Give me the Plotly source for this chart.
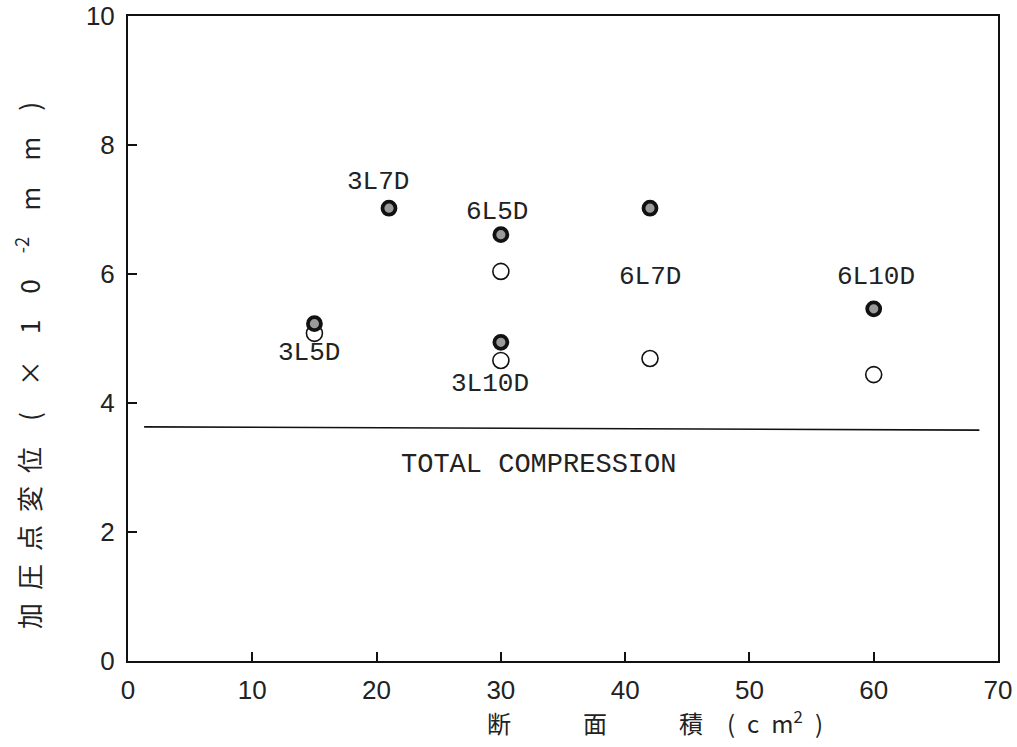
import plotly.graph_objects as go

# Data
labels = ["3L5D", "3L7D", "6L5D", "3L10D", "6L7D", "6L10D"]
area_filled = [15, 21, 30, 30, 42, 60]
disp_filled = [5.23, 7.02, 6.61, 4.94, 7.02, 5.46]
area_open = [15, 30, 30, 42, 60]
disp_open = [5.08, 6.04, 4.66, 4.69, 4.44]
total_x = [1.3, 68.5]
total_y = [3.63, 3.58]
# label anchor positions (data coords)
label_x = [14.6, 20.1, 29.7, 29.1, 42.0, 60.2]
label_y = [4.78, 7.43, 6.96, 4.29, 5.96, 5.96]

fig = go.Figure()

fig.add_trace(go.Scatter(x=total_x, y=total_y, mode="lines",
                         line=dict(color="#111", width=1.6), showlegend=False,
                         hoverinfo="skip"))
fig.add_trace(go.Scatter(x=area_open, y=disp_open, mode="markers",
                         marker=dict(symbol="circle", size=16, color="white",
                                     line=dict(color="#111", width=1.6)),
                         showlegend=False))
fig.add_trace(go.Scatter(x=area_filled, y=disp_filled, mode="markers",
                         marker=dict(symbol="circle", size=13, color="#9a9a9a",
                                     line=dict(color="#111", width=3.8)),
                         showlegend=False))

label_font = dict(family="Liberation Mono, Courier New, monospace", size=26, color="#222")
for t, x, y in zip(labels, label_x, label_y):
    fig.add_annotation(x=x, y=y, text=t, showarrow=False, font=label_font,
                       xanchor="center", yanchor="middle")

fig.add_annotation(x=33.0, y=3.04, text="TOTAL COMPRESSION", showarrow=False,
                   font=dict(family="Liberation Mono, Courier New, monospace", size=27, color="#222"),
                   xanchor="center", yanchor="middle")

# axis titles
fig.add_annotation(xref="paper", yref="paper", x=-0.115, y=0.459,
                   text="加\u2002圧\u2002点\u2002変\u2002位\u3000(\u3000×\u30001\u30000\u3000<sup>-2</sup>\u3000m\u3000m\u3000)",
                   textangle=-90, showarrow=False,
                   font=dict(family="Noto Sans CJK JP", size=26, color="#222"),
                   xanchor="center", yanchor="middle")
fig.add_annotation(xref="paper", yref="paper", x=0.41, y=-0.094,
                   text="断\u3000\u3000\u3000面\u3000\u3000\u3000積\u3000(\u2002c\u2002m<sup>2</sup>\u2002)",
                   showarrow=False,
                   font=dict(family="Noto Sans CJK JP", size=24, color="#222"),
                   xanchor="left", yanchor="middle")

tick_font = dict(family="Liberation Sans, DejaVu Sans, sans-serif", size=26, color="#222")
fig.update_xaxes(range=[0, 70], tickvals=[0, 10, 20, 30, 40, 50, 60, 70],
                 ticks="inside", ticklen=9, tickwidth=1.5, tickcolor="#111",
                 showline=True, linecolor="#111", linewidth=2, mirror=True,
                 showgrid=False, zeroline=False, tickfont=tick_font,
                 ticklabelstandoff=5, ticklabeloverflow="allow", automargin=False)
fig.update_yaxes(range=[0, 10], tickvals=[0, 2, 4, 6, 8, 10],
                 ticks="inside", ticklen=9, tickwidth=1.5, tickcolor="#111",
                 showline=True, linecolor="#111", linewidth=2, mirror=True,
                 showgrid=False, zeroline=False, tickfont=tick_font,
                 ticklabelstandoff=6, ticklabeloverflow="allow", automargin=False)

fig.update_layout(width=1017, height=747,
                  margin=dict(l=128, r=19, t=16, b=86),
                  paper_bgcolor="white", plot_bgcolor="white")

fig.write_html("out.html")
